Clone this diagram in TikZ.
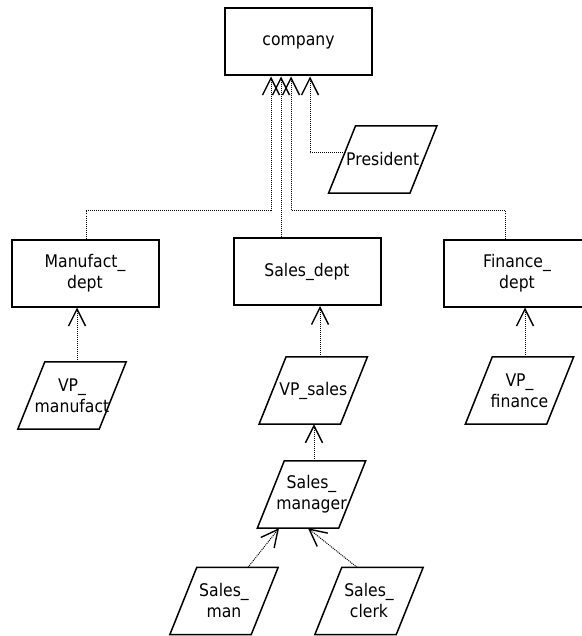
\documentclass[tikz,border=0pt]{standalone}
\usepackage{fontspec}
\setmainfont{DejaVu Sans}[FakeStretch=0.9]
\usetikzlibrary{arrows.meta,calc}
\tikzset{
  entity/.style={draw, line width=2pt, minimum width=147pt, minimum height=67pt,
    inner sep=0pt, align=center, font=\fontsize{17.4}{21}\selectfont},
  role/.style={minimum width=81pt, minimum height=67pt, inner sep=0pt,
    align=center, font=\fontsize{17.4}{21}\selectfont},
  link/.style={line width=1pt, dash pattern=on 1pt off 1pt,
    -{Straight Barb[length=17pt,width=17pt,line width=1.4pt]}},
  slantedge/.style={line width=1.5pt, line join=miter},
}
% outline of a role: the node's box slanted to the right
\newcommand\rolebox[1]{%
  \draw[slantedge] ([xshift=-13.5pt]#1.south west) -- ([xshift=-13.5pt]#1.south east)
    -- ([xshift=13.5pt]#1.north east) -- ([xshift=13.5pt]#1.north west) -- cycle;}
\begin{document}
\begin{tikzpicture}[x=1pt, y=-1pt]
\useasboundingbox (0,0) rectangle (581,636);

% organisational units
\node[entity] (company) at (298.5,42) {company};
\node[entity] (manu) at (85,273) {Manufact\_\\dept};
\node[entity] (sales) at (307,271.5) {Sales\_dept};
\node[entity] (finance) at (517,273) {Finance\_\\dept};

% roles
\node[role] (pres) at (382.75,159.5) {President};
\node[role] (vpm) at (72,395.5) {VP\_\\manufact};
\node[role] (vps) at (313.25,390.5) {VP\_sales};
\node[role] (vpf) at (519.5,390.5) {VP\_\\finance};
\node[role] (mgr) at (311.5,494.5) {Sales\_\\manager};
\node[role] (sman) at (224,601) {Sales\_\\man};
\node[role] (sclerk) at (369,601) {Sales\_\\clerk};
\foreach \r in {pres,vpm,vps,vpf,mgr,sman,sclerk} {\rolebox{\r}}

% departments to company
\draw[link] ([xshift=1pt]manu.north) -- ++(0,-28) -| ([xshift=-27.5pt]company.south);
\draw[link] ([xshift=-26pt]sales.north) -- ([xshift=-17.5pt]company.south);
\draw[link] ([xshift=-12pt]finance.north) -- ++(0,-28) -| ([xshift=-7.5pt]company.south);

% president to company
\coordinate (presin) at ($(pres.west)+(2.6,-6.5)$);
\draw[link] (presin) -| ([xshift=11.5pt]company.south);

% vice presidents to departments
\draw[link] ([xshift=5pt]vpm.north) -- ([xshift=5pt]vpm.north |- manu.south);
\draw[link] ([xshift=6.75pt]vps.north) -- ([xshift=6.75pt]vps.north |- sales.south);
\draw[link] ([xshift=5.5pt]vpf.north) -- ([xshift=5.5pt]vpf.north |- finance.south);

% sales staff
\draw[link] ([xshift=2.5pt]mgr.north) -- ([xshift=2.5pt]mgr.north |- vps.south);
\draw[link] ([xshift=24pt]sman.north) -- ([xshift=-32.5pt]mgr.south);
\draw[link] ([xshift=-12pt]sclerk.north) -- ([xshift=-3.5pt]mgr.south);
\end{tikzpicture}
\end{document}
